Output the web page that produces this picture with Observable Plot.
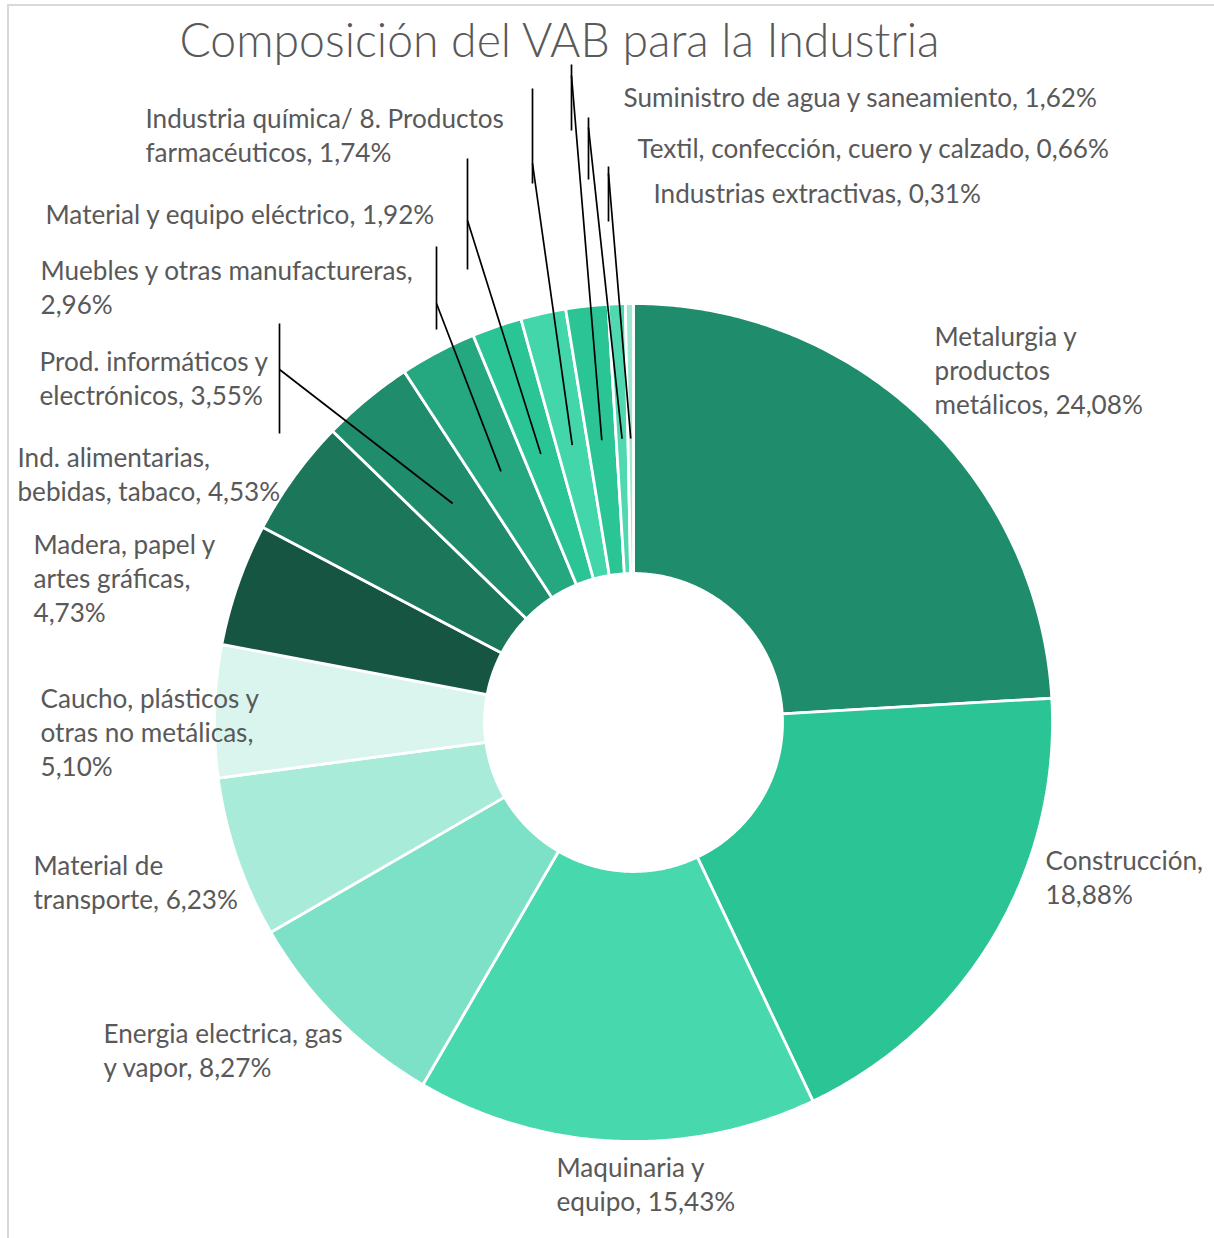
<!DOCTYPE html>
<html>
<head>
<meta charset="utf-8">
<script src="https://cdn.jsdelivr.net/npm/d3@7"></script>
<script src="https://cdn.jsdelivr.net/npm/@observablehq/plot@0.6"></script>
<style>
html,body{margin:0;padding:0;background:#fff;}
#wrap{position:relative;width:1214px;height:1238px;overflow:hidden;}
#chart svg{display:block;}
#frame{position:absolute;left:7px;top:4px;right:-10px;bottom:-10px;border-top:2px solid #d9d9d9;border-left:2px solid #d9d9d9;pointer-events:none;}
</style>
</head>
<body>
<div id="wrap"><div id="chart"></div><div id="frame"></div></div>
<script>
// ---------------- DATA ----------------
const title = "Composición del VAB para la Industria";
const categories = [
  "Metalurgia y productos metálicos",
  "Construcción",
  "Maquinaria y equipo",
  "Energia electrica, gas y vapor",
  "Material de transporte",
  "Caucho, plásticos y otras no metálicas",
  "Madera, papel y artes gráficas",
  "Ind. alimentarias, bebidas, tabaco",
  "Prod. informáticos y electrónicos",
  "Muebles y otras manufactureras",
  "Material y equipo eléctrico",
  "Industria química/ 8. Productos farmacéuticos",
  "Suministro de agua y saneamiento",
  "Textil, confección, cuero y calzado",
  "Industrias extractivas"
];
const values = [24.08, 18.88, 15.43, 8.27, 6.23, 5.10, 4.73, 4.53, 3.55, 2.96, 1.92, 1.74, 1.62, 0.66, 0.31];

// ---------------- STYLE ----------------
const palette = [
  "#1f8c6b", "#2bc494", "#48d8ae", "#7ce1c6", "#a9ebd9", "#d9f5ee",
  "#155541", "#1b765a", "#1f8c6b", "#25a77f", "#2bc494", "#42d6aa",
  "#2bc494", "#50d9b1", "#9fe7d2"
];
const textColor = "#595959";

// ---------------- LAYOUT (pixels) ----------------
const W = 1214, H = 1238, CX = 633, CY = 722;
const R_OUT = 419, R_IN = 149, R_LEADER = 284;
// label block: left x, vertical centre, words per line
const labelLayout = [
  {x: 934,  y: 369,  words: [2, 1, 2]},
  {x: 1045, y: 876,  words: [1, 1]},
  {x: 556,  y: 1183, words: [2, 2]},
  {x: 103,  y: 1049, words: [3, 3]},
  {x: 33,   y: 881,  words: [2, 2]},
  {x: 40,   y: 731,  words: [3, 3, 1]},
  {x: 33,   y: 577,  words: [3, 2, 1]},
  {x: 17,   y: 473,  words: [2, 3]},
  {x: 39,   y: 377,  words: [3, 2]},
  {x: 40,   y: 286,  words: [4, 1]},
  {x: 45,   y: 213,  words: [5]},
  {x: 145,  y: 134,  words: [4, 2]},
  {x: 623,  y: 96,   words: [6]},
  {x: 637,  y: 147,  words: [7]},
  {x: 653,  y: 192,  words: [3]}
];
// leader brackets: index -> vertical bar x, y1..y2, and start y of diagonal
const leaderLayout = [
  {i: 8,  x: 279, y1: 323, y2: 433, ys: 369},
  {i: 9,  x: 436, y1: 246, y2: 329, ys: 303},
  {i: 10, x: 467, y1: 158, y2: 269, ys: 220},
  {i: 11, x: 532, y1: 88,  y2: 183, ys: 163},
  {i: 12, x: 571, y1: 64,  y2: 130, ys: 75},
  {i: 13, x: 588, y1: 117, y2: 179, ys: 127},
  {i: 14, x: 608, y1: 166, y2: 221, ys: 173}
];
const LINE_H = 34;

// pixel -> centred units (y up)
const ux = px => px - CX;
const uy = py => CY - py;

// ---------------- FONT CALIBRATION ----------------
const ctx = document.createElement("canvas").getContext("2d");
function measure(text, family, size, weight) {
  ctx.font = `${weight} ${size}px ${family}`;
  return ctx.measureText(text).width;
}
const labelFamily = "Lato, 'Open Sans', sans-serif";
let labelSize = 100 * 475 / measure("Suministro de agua y saneamiento, 1,62%", labelFamily, 100, 400);
if (!isFinite(labelSize) || labelSize < 15 || labelSize > 40) labelSize = 26;
let titleSize = 100 * 762 / measure(title, labelFamily, 100, 300);
if (!isFinite(titleSize) || titleSize < 25 || titleSize > 70) titleSize = 46;

// ---------------- DERIVED GEOMETRY ----------------
const rows = categories.map((name, i) => ({name, value: values[i], i}));
const arcs = d3.pie().sort(null).value(d => d.value)(rows);

const polyPts = [];
arcs.forEach(a => {
  const n = Math.max(2, Math.ceil((a.endAngle - a.startAngle) / (Math.PI / 360)));
  for (let k = 0; k <= n; k++) {
    const t = a.startAngle + (a.endAngle - a.startAngle) * k / n;
    polyPts.push({name: a.data.name, x: R_OUT * Math.sin(t), y: R_OUT * Math.cos(t)});
  }
  for (let k = n; k >= 0; k--) {
    const t = a.startAngle + (a.endAngle - a.startAngle) * k / n;
    polyPts.push({name: a.data.name, x: R_IN * Math.sin(t), y: R_IN * Math.cos(t)});
  }
});

const fmt = v => v.toFixed(2).replace(".", ",") + "%";
const labels = rows.map((r, i) => {
  const words = `${r.name}, ${fmt(r.value)}`.split(" ");
  const lines = [];
  let p = 0;
  for (const c of labelLayout[i].words) { lines.push(words.slice(p, p + c).join(" ")); p += c; }
  if (p < words.length) lines[lines.length - 1] += " " + words.slice(p).join(" ");
  return {x: ux(labelLayout[i].x), y: uy(labelLayout[i].y), text: lines.join("\n")};
});

const bars = leaderLayout.map(l => ({x1: ux(l.x), x2: ux(l.x), y1: uy(l.y1), y2: uy(l.y2)}));
const diagonals = leaderLayout.map(l => {
  const a = arcs[l.i];
  const m = (a.startAngle + a.endAngle) / 2;
  return {x1: ux(l.x), y1: uy(l.ys), x2: R_LEADER * Math.sin(m), y2: R_LEADER * Math.cos(m)};
});

const titleRow = [{x: ux(559), y: uy(42), text: title}];

// ---------------- PLOT ----------------
const chart = Plot.plot({
  width: W,
  height: H,
  margin: 0,
  style: {background: "transparent", overflow: "visible"},
  x: {domain: [-CX, W - CX], axis: null},
  y: {domain: [-(H - CY), CY], axis: null},
  color: {type: "ordinal", domain: categories, range: palette},
  marks: [
    Plot.line(polyPts, {x: "x", y: "y", z: "name", fill: "name", stroke: "white", strokeWidth: 2.8, curve: "linear-closed", strokeLinejoin: "miter"}),
    Plot.link(bars, {x1: "x1", y1: "y1", x2: "x2", y2: "y2", stroke: "black", strokeWidth: 1.7}),
    Plot.link(diagonals, {x1: "x1", y1: "y1", x2: "x2", y2: "y2", stroke: "black", strokeWidth: 1.7}),
    Plot.text(labels, {x: "x", y: "y", text: "text", textAnchor: "start", lineAnchor: "middle",
      lineHeight: LINE_H / labelSize, fontSize: labelSize, fill: textColor, fontFamily: labelFamily}),
    Plot.text(titleRow, {x: "x", y: "y", text: "text", textAnchor: "middle", lineAnchor: "middle",
      fontSize: titleSize, fontWeight: 300, fill: textColor, fontFamily: labelFamily})
  ]
});
document.getElementById("chart").appendChild(chart);
</script>
</body>
</html>
